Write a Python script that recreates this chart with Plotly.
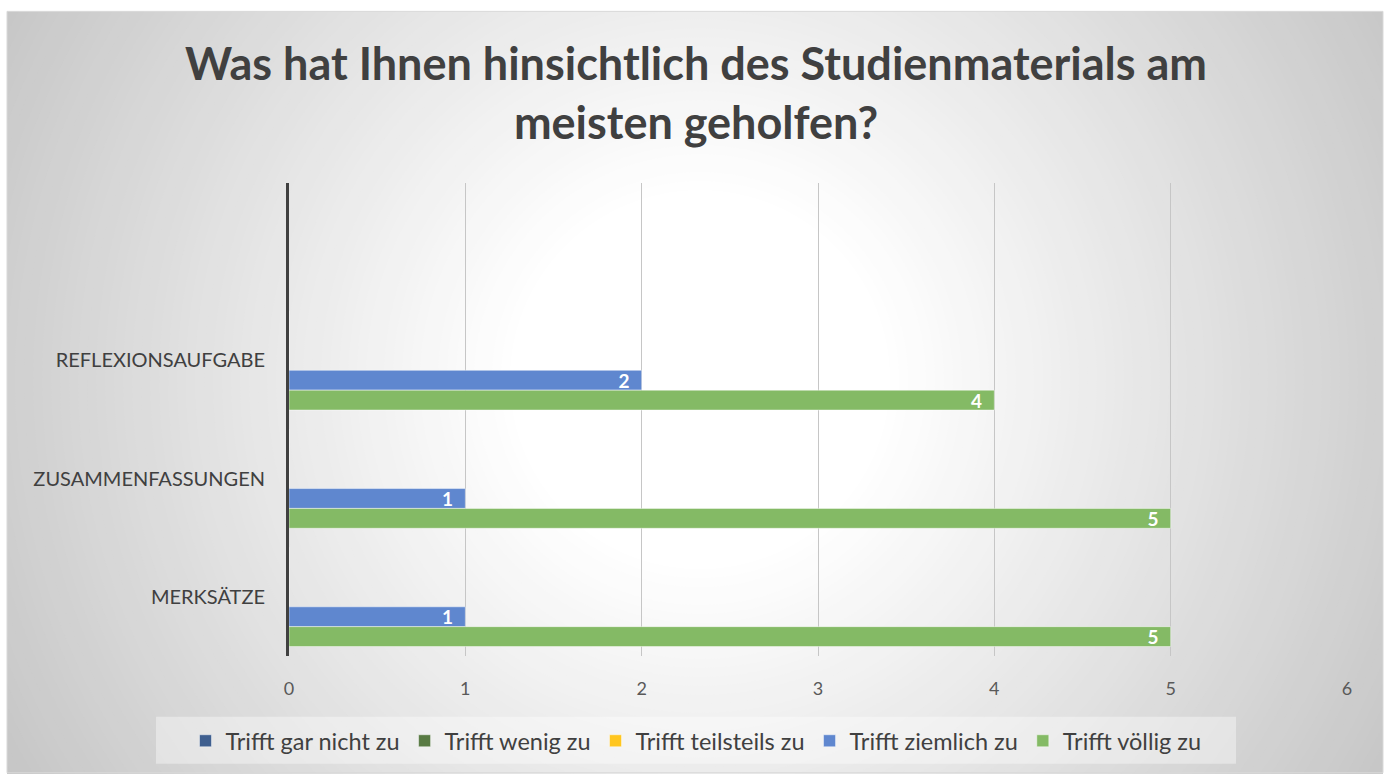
import plotly.graph_objects as go

categories = ["REFLEXIONSAUFGABE", "ZUSAMMENFASSUNGEN", "MERKSÄTZE"]
series_names = ["Trifft gar nicht zu", "Trifft wenig zu", "Trifft teilsteils zu",
                "Trifft ziemlich zu", "Trifft völlig zu"]
gar_nicht = [0, 0, 0]
wenig = [0, 0, 0]
teilsteils = [0, 0, 0]
ziemlich = [2, 1, 1]
voellig = [4, 5, 5]
series_values = [gar_nicht, wenig, teilsteils, ziemlich, voellig]
series_colors = ["#3F5F8F", "#587A43", "#FFC61F", "#5F87CF", "#84BA65"]
x_ticks = [0, 1, 2, 3, 4, 5, 6]

W, H = 1388, 774
ML, MR, MT, MB = 289, 41, 183, 117
PW, PH = W - ML - MR, H - MT - MB

FONT = "Lato, 'Open Sans', sans-serif"

fig = go.Figure()
for name, vals, col in zip(series_names, series_values, series_colors):
    fig.add_trace(go.Bar(
        y=categories, x=vals, name=name, orientation="h",
        marker=dict(color=col, line=dict(color="rgba(255,255,255,0.45)", width=1)),
        text=[(str(v) + "\u00a0\u00a0") if v else "" for v in vals],
        textposition="inside", insidetextanchor="end", textangle=0, constraintext="none",
        textfont=dict(family=FONT, size=19, color="white", weight="bold"),
        cliponaxis=False,
    ))

def px2paper(px, py):
    return (px - ML) / PW, (H - MB - py) / PH

shapes = []
cx, cy = 700, 380
r_in, r_out = 190, 820
c_in, c_out = 255, 196
steps = 70
for i in range(steps + 1):
    r = r_out - (r_out - r_in) * i / steps
    t = (r - r_in) / (r_out - r_in)
    c = round(c_in + (c_out - c_in) * t)
    x0, y0 = px2paper(cx - r, cy + r)
    x1, y1 = px2paper(cx + r, cy - r)
    shapes.append(dict(type="circle", xref="paper", yref="paper", x0=x0, x1=x1, y0=y0, y1=y1,
                       fillcolor=f"rgb({c},{c},{c})", line=dict(width=0), layer="below"))
for (ax0, ay0, ax1, ay1) in [(-10, -10, 7, H + 10), (-10, -10, W + 10, 11), (1383, -10, W + 10, H + 10)]:
    x0, y0 = px2paper(ax0, ay1)
    x1, y1 = px2paper(ax1, ay0)
    shapes.append(dict(type="rect", xref="paper", yref="paper", x0=x0, x1=x1, y0=y0, y1=y1,
                       fillcolor="white", line=dict(width=0), layer="below"))
x0, y0 = px2paper(7, 774)
x1, y1 = px2paper(1383, 11)
shapes.append(dict(type="rect", xref="paper", yref="paper", x0=x0, x1=x1, y0=y0, y1=y1,
                   fillcolor="rgba(0,0,0,0)", line=dict(width=1, color="#D9D9D9"), layer="below"))
x0, y0 = px2paper(156, 765)
x1, y1 = px2paper(1236, 718)
shapes.append(dict(type="rect", xref="paper", yref="paper", x0=x0, x1=x1, y0=y0, y1=y1,
                   fillcolor="rgba(255,255,255,0.38)", line=dict(width=0), layer="below"))

lx, ly = px2paper(696, 741)

fig.update_layout(
    width=W, height=H,
    margin=dict(l=ML, r=MR, t=MT, b=MB),
    paper_bgcolor="white", plot_bgcolor="rgba(0,0,0,0)",
    barmode="group", bargap=0.16, bargroupgap=0,
    shapes=shapes,
    title=dict(
        text="Was hat Ihnen hinsichtlich des Studienmaterials am<br>meisten geholfen?",
        x=696 / W, xref="container", xanchor="center", y=1 - 80 / H, yref="container", yanchor="middle",
        font=dict(family=FONT, size=45, color="#404040", weight="bold"),
    ),
    font=dict(family=FONT, color="#404040"),
    xaxis=dict(range=[0, 6], tickvals=x_ticks, showgrid=True, gridcolor="#C6C6C6", gridwidth=1,
               zeroline=False, showline=False, ticks="",
               tickfont=dict(family=FONT, size=18, color="#595959"), ticklabelstandoff=20),
    yaxis=dict(type="category", categoryorder="array", categoryarray=categories,
               range=[2.5, -1.5], showgrid=False, zeroline=False,
               showline=True, linecolor="#404040", linewidth=3, ticks="",
               tickfont=dict(family=FONT, size=20, color="#404040"), ticklabelstandoff=17),
    legend=dict(orientation="h", x=lx, y=ly, xanchor="center", yanchor="middle",
                bgcolor="rgba(0,0,0,0)", font=dict(family=FONT, size=23.5, color="#404040"),
                itemclick=False),
    showlegend=True,
)

fig.write_html("out.html", config={"displayModeBar": False},
               post_script="document.body.style.margin='0';document.body.style.overflow='hidden';")
